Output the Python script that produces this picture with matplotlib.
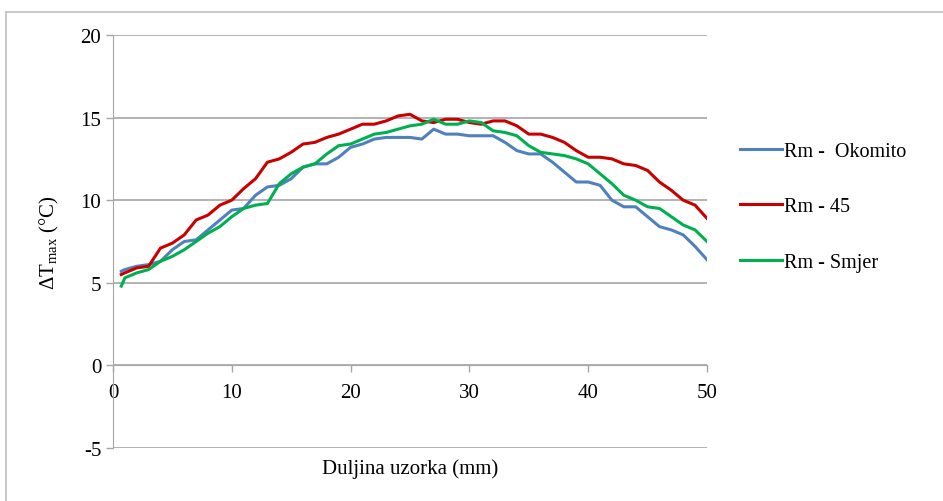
import numpy as np
import matplotlib
matplotlib.use("Agg")
import matplotlib.pyplot as plt
from matplotlib.patches import Rectangle

plt.rcParams['font.family'] = ['Liberation Serif', 'DejaVu Serif']
plt.rcParams['axes.unicode_minus'] = False
plt.rcParams['mathtext.fontset'] = 'custom'
plt.rcParams['mathtext.rm'] = 'Liberation Serif'
plt.rcParams['mathtext.it'] = 'Liberation Serif'

# duljina uzorka (mm)
x_mm = [0.7] + list(range(1, 51))

okomito = [5.7, 5.8, 6.0, 6.1, 6.3, 7.0, 7.5, 7.6, 8.2, 8.8, 9.4,
           9.5, 10.3, 10.8, 10.9, 11.3, 12.0, 12.2, 12.2, 12.6, 13.2,
           13.4, 13.7, 13.8, 13.8, 13.8, 13.7, 14.3, 14.0, 14.0, 13.9,
           13.9, 13.9, 13.5, 13.0, 12.8, 12.8, 12.3, 11.7, 11.1, 11.1,
           10.9, 10.0, 9.6, 9.6, 9.0, 8.4, 8.2, 7.9, 7.2, 6.4]

rm45 = [5.5, 5.6, 5.9, 6.0, 7.1, 7.4, 7.9, 8.8, 9.1, 9.7, 10.0,
        10.7, 11.3, 12.3, 12.5, 12.9, 13.4, 13.5, 13.8, 14.0, 14.3,
        14.6, 14.6, 14.8, 15.1, 15.2, 14.8, 14.7, 14.9, 14.9, 14.7,
        14.6, 14.8, 14.8, 14.5, 14.0, 14.0, 13.8, 13.5, 13.0, 12.6,
        12.6, 12.5, 12.2, 12.1, 11.8, 11.1, 10.6, 10.0, 9.7, 8.9]

smjer = [4.8, 5.3, 5.6, 5.8, 6.3, 6.6, 7.0, 7.5, 8.0, 8.4, 9.0,
         9.5, 9.7, 9.8, 11.0, 11.6, 12.0, 12.2, 12.8, 13.3, 13.4,
         13.7, 14.0, 14.1, 14.3, 14.5, 14.6, 14.9, 14.6, 14.6, 14.8,
         14.7, 14.2, 14.1, 13.9, 13.3, 12.9, 12.8, 12.7, 12.5, 12.2,
         11.6, 11.0, 10.3, 10.0, 9.6, 9.5, 9.0, 8.5, 8.2, 7.5]

labels = ['Rm -  Okomito', 'Rm - 45', 'Rm - Smjer']
colors = ['#4F81BD', '#C80000', '#00B050']

fig = plt.figure(figsize=(9.43, 5.02), dpi=100)
ax = fig.add_axes([0.1198, 0.1056, 0.6299, 0.8227])

for y, lab, c in zip([okomito, rm45, smjer], labels, colors):
    ax.plot(x_mm, y, color=c, lw=2.2, label=lab, solid_joinstyle='round')

ax.set_xlim(0, 50)
ax.set_ylim(-5, 20)
ax.set_yticks([-5, 0, 5, 10, 15, 20])
ax.set_xticks([0, 10, 20, 30, 40, 50])
ax.grid(axis='y', color='#A6A6A6', lw=1.2)
ax.set_axisbelow(True)

for s in ['top', 'right']:
    ax.spines[s].set_visible(False)
ax.spines['bottom'].set_position(('data', 0))
ax.spines['bottom'].set_color('#A6A6A6')
ax.spines['left'].set_color('#A6A6A6')
ax.tick_params(axis='both', colors='#A6A6A6', labelcolor='black', labelsize=15,
               length=5, width=1)
ax.tick_params(axis='x', pad=8)

ax.set_ylabel(r'$\Delta$T$_{\rm max}$ (°C)', fontsize=15, labelpad=14)
ax.set_xlabel('Duljina uzorka (mm)', fontsize=15)
ax.xaxis.set_label_coords(0.5, -0.025)

ax.legend(loc='upper left', bbox_to_anchor=(1.025, 0.785), frameon=False,
          fontsize=14.5, handlelength=2.1, handletextpad=0.1, labelspacing=1.8)

fig.patches.append(Rectangle((6 / 943, -0.1), 1.2, 1 - 13 / 502 + 0.1,
                             transform=fig.transFigure, fill=False,
                             edgecolor='#BFBFBF', lw=1.2))

fig.savefig('out.png', dpi=100)
